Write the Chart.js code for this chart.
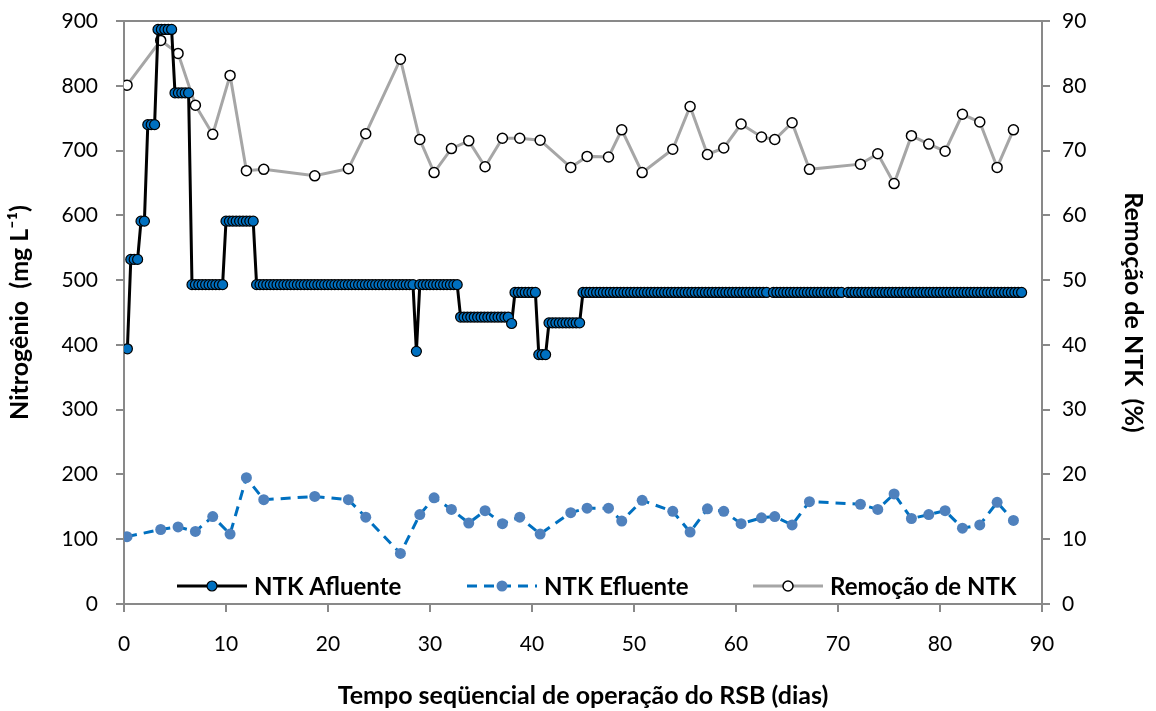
<!DOCTYPE html>
<html>
<head>
<meta charset="utf-8">
<script src="https://cdn.jsdelivr.net/npm/chart.js@4.4.0/dist/chart.umd.min.js"></script>
<style>
  body { margin: 0; background: #fff; }
</style>
</head>
<body>
<canvas id="grafico" width="1156" height="711"></canvas>
<script>
// NTK afluente, one value per 8 h cycle (null = cycle with no sample)
var cicloDias = 1 / 3;
var afluente = [
  394, 532, 532, 532, 591, 591, 740, 740, 740,
  887, 887, 887, 887, 887, 789, 789, 789, 789, 789,
  493, 493, 493, 493, 493, 493, 493, 493, 493, 493,
  591, 591, 591, 591, 591, 591, 591, 591, 591,
  493, 493, 493, 493, 493, 493, 493, 493, 493, 493,
  493, 493, 493, 493, 493, 493, 493, 493, 493, 493,
  493, 493, 493, 493, 493, 493, 493, 493, 493, 493,
  493, 493, 493, 493, 493, 493, 493, 493, 493, 493,
  493, 493, 493, 493, 493, 493, 493,
  390,
  493, 493, 493, 493, 493, 493, 493, 493, 493, 493, 493, 493,
  443, 443, 443, 443, 443, 443, 443, 443, 443, 443, 443, 443, 443, 443, 443,
  433,
  481, 481, 481, 481, 481, 481, 481,
  385, 385, 385,
  434, 434, 434, 434, 434, 434, 434, 434, 434, 434,
  481, 481, 481, 481, 481, 481, 481, 481, 481, 481,
  481, 481, 481, 481, 481, 481, 481, 481, 481, 481,
  481, 481, 481, 481, 481, 481, 481, 481, 481, 481,
  481, 481, 481, 481, 481, 481, 481, 481, 481, 481,
  481, 481, 481, 481, 481, 481, 481, 481, 481, 481,
  481, 481, 481, 481, 481,
  null,
  481, 481, 481, 481, 481, 481, 481, 481, 481, 481,
  481, 481, 481, 481, 481, 481, 481, 481, 481, 481, 481,
  null,
  481, 481, 481, 481, 481, 481, 481, 481, 481, 481,
  481, 481, 481, 481, 481, 481, 481, 481, 481, 481,
  481, 481, 481, 481, 481, 481, 481, 481, 481, 481,
  481, 481, 481, 481, 481, 481, 481, 481, 481, 481,
  481, 481, 481, 481, 481, 481, 481, 481, 481, 481,
  481, 481
];

// sampling days for effluent and removal
var diasAmostra = [0.3, 3.6, 5.3, 7.0, 8.7, 10.4, 12.0, 13.7, 18.7, 22.0,
  23.7, 27.1, 29.0, 30.4, 32.1, 33.8, 35.4, 37.1, 38.8, 40.8,
  43.8, 45.4, 47.5, 48.8, 50.8, 53.8, 55.5, 57.2, 58.8, 60.5,
  62.5, 63.8, 65.5, 67.2, 72.2, 73.9, 75.5, 77.2, 78.9, 80.5,
  82.2, 83.9, 85.6, 87.2];
var efluente = [104, 115, 119, 112, 135, 108, 195, 161, 166, 161,
  134, 78, 138, 164, 146, 125, 144, 124, 134, 108,
  141, 148, 148, 128, 160, 143, 111, 147, 143, 124,
  133, 135, 122, 158, 154, 146, 170, 132, 138, 144,
  117, 122, 157, 129];
var remocao = [80.1, 87.0, 85.0, 77.0, 72.5, 81.6, 66.9, 67.1, 66.1, 67.2,
  72.6, 84.1, 71.7, 66.6, 70.3, 71.5, 67.5, 71.9, 71.9, 71.6,
  67.4, 69.1, 69.0, 73.2, 66.6, 70.2, 76.8, 69.4, 70.4, 74.1,
  72.1, 71.7, 74.3, 67.1, 67.9, 69.5, 64.9, 72.3, 71.0, 69.9,
  75.6, 74.4, 67.4, 73.2];

var ticksX = [0, 90, 10];
var ticksY = [0, 900, 100];
var ticksY2 = [0, 90, 10];

var nomes = ['NTK Afluente', 'NTK Efluente', 'Remoção de NTK'];

var fonte = 'Lato';
var cinza = '#898989';

var pontosAfluente = afluente.map(function (v, i) { return { x: (i + 1) * cicloDias, y: v }; });
var pontosEfluente = diasAmostra.map(function (d, i) { return { x: d, y: efluente[i] }; });
var pontosRemocao = diasAmostra.map(function (d, i) { return { x: d, y: remocao[i] }; });

// legend drawn inside the plot, along the bottom
var legendaInterna = {
  id: 'legendaInterna',
  afterDraw: function (chart) {
    var ctx = chart.ctx, a = chart.chartArea;
    ctx.save();
    ctx.strokeStyle = cinza;
    ctx.lineWidth = 2;
    ctx.beginPath();
    ctx.moveTo(a.left, a.top);
    ctx.lineTo(a.right, a.top);
    ctx.stroke();

    var inicio = [53, 343, 629];
    var y = a.bottom - 18;
    chart.data.datasets.forEach(function (ds, i) {
      var x0 = a.left + inicio[i];
      ctx.strokeStyle = ds.borderColor;
      ctx.lineWidth = ds.borderWidth;
      ctx.setLineDash(ds.borderDash || []);
      ctx.beginPath();
      ctx.moveTo(x0, y);
      ctx.lineTo(x0 + 70, y);
      ctx.stroke();
      ctx.setLineDash([]);
      ctx.beginPath();
      ctx.arc(x0 + 35, y, ds.pointRadius, 0, Math.PI * 2);
      ctx.fillStyle = ds.pointBackgroundColor;
      ctx.fill();
      if (ds.pointBorderWidth) {
        ctx.lineWidth = ds.pointBorderWidth;
        ctx.strokeStyle = ds.pointBorderColor;
        ctx.stroke();
      }
      ctx.fillStyle = '#000';
      ctx.font = 'bold 24px ' + fonte;
      ctx.textBaseline = 'middle';
      ctx.textAlign = 'left';
      ctx.fillText(ds.label, x0 + 77, y + 1);
    });
    ctx.restore();
  }
};

function eixo(extra) {
  var base = {
    grid: { drawOnChartArea: false, drawTicks: true, tickLength: 8, color: cinza, lineWidth: 2 },
    border: { display: true, color: cinza, width: 2 },
    ticks: { color: '#000', font: { family: fonte, size: 21 } }
  };
  return Object.assign(base, extra);
}

// keep the vertical axes from pushing the plot area down
function larguraFixa(w) {
  return function (s) { s.width = w; s.paddingTop = 0; s.paddingBottom = 0; };
}

var fonteTitulo = { family: fonte, size: 25, weight: 'bold' };

new Chart(document.getElementById('grafico').getContext('2d'), {
  type: 'line',
  data: {
    datasets: [{
      label: nomes[0],
      data: pontosAfluente,
      yAxisID: 'y',
      borderColor: '#000',
      borderWidth: 3,
      pointRadius: 5,
      pointBackgroundColor: '#0070C0',
      pointBorderColor: '#000',
      pointBorderWidth: 1.2,
      spanGaps: true,
      tension: 0
    }, {
      label: nomes[1],
      data: pontosEfluente,
      yAxisID: 'y',
      borderColor: '#0070C0',
      borderWidth: 3,
      borderDash: [10, 7],
      pointRadius: 5.5,
      pointBackgroundColor: '#4F81BD',
      pointBorderColor: '#4F81BD',
      pointBorderWidth: 0,
      tension: 0
    }, {
      label: nomes[2],
      data: pontosRemocao,
      yAxisID: 'y1',
      borderColor: '#A6A6A6',
      borderWidth: 3,
      pointRadius: 5,
      pointBackgroundColor: '#fff',
      pointBorderColor: '#000',
      pointBorderWidth: 1.5,
      tension: 0
    }]
  },
  options: {
    responsive: false,
    animation: false,
    devicePixelRatio: 1,
    layout: { padding: { top: 21, left: 0, right: 0, bottom: 0 } },
    plugins: { legend: { display: false }, tooltip: { enabled: false } },
    scales: {
      x: eixo({
        type: 'linear',
        min: ticksX[0], max: ticksX[1],
        afterFit: function (s) { s.height = 107; },
        ticks: { stepSize: ticksX[2], padding: 20, color: '#000', font: { family: fonte, size: 21 } },
        title: { display: true, text: 'Tempo seqüencial de operação do RSB (dias)', color: '#000',
          font: fonteTitulo, padding: { top: 0, bottom: 0 } }
      }),
      y: eixo({
        position: 'left',
        min: ticksY[0], max: ticksY[1],
        afterFit: larguraFixa(124),
        ticks: { stepSize: ticksY[2], padding: 18, color: '#000', font: { family: fonte, size: 21 } },
        title: { display: true, text: 'Nitrogênio  (mg L⁻¹)', color: '#000',
          font: fonteTitulo, padding: { top: 5, bottom: 5 } }
      }),
      y1: eixo({
        position: 'right',
        min: ticksY2[0], max: ticksY2[1],
        afterFit: larguraFixa(114),
        ticks: { stepSize: ticksY2[2], padding: 12, color: '#000', font: { family: fonte, size: 21 } },
        title: { display: true, text: 'Remoção de NTK  (%)', color: '#000',
          font: fonteTitulo, padding: { top: 8, bottom: 8 } }
      })
    }
  },
  plugins: [legendaInterna]
});
</script>
</body>
</html>
